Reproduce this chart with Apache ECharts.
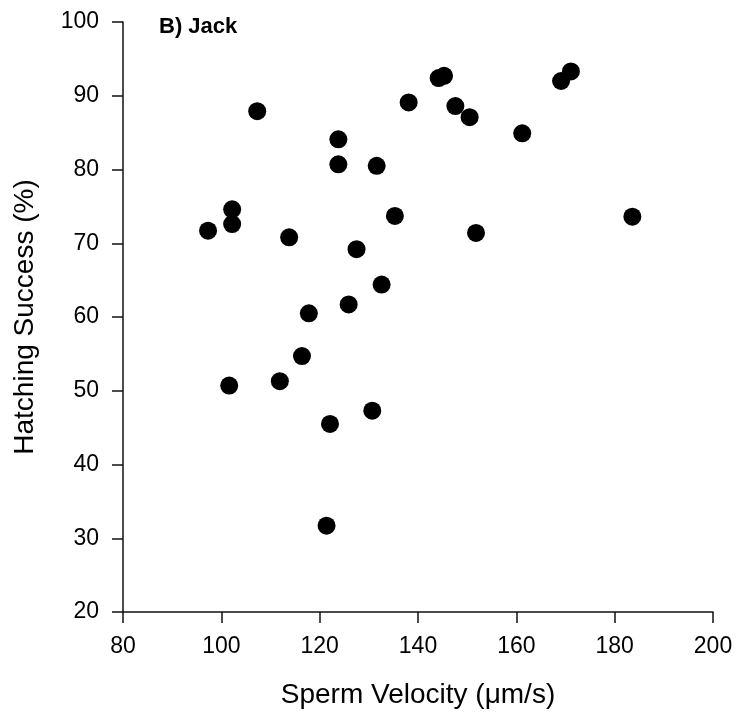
<!DOCTYPE html>
<html>
<head>
<meta charset="utf-8">
<script src="https://cdn.jsdelivr.net/npm/echarts@6/dist/echarts.min.js"></script>
<style>
html,body{margin:0;padding:0;background:#fff;}
#chart{width:739px;height:717px;}
</style>
</head>
<body>
<div id="chart"></div>
<script>
// Sperm velocity (µm/s)
var velocity = [97.3, 101.6, 102.2, 102.2, 107.3, 111.9, 113.8, 116.4, 117.8, 121.4,
                122.1, 123.8, 123.8, 125.9, 127.5, 130.7, 131.6, 132.6, 135.3, 138.1,
                144.2, 145.3, 147.6, 150.5, 151.8, 161.2, 169.1, 171.1, 183.6];
// Hatching success (%)
var hatching = [71.7, 50.7, 74.6, 72.6, 87.9, 51.3, 70.8, 54.7, 60.5, 31.7,
                45.5, 84.1, 80.7, 61.7, 69.2, 47.3, 80.5, 64.4, 73.7, 89.1,
                92.4, 92.7, 88.6, 87.1, 71.4, 84.9, 92.0, 93.3, 73.6];
var panelTitle = 'B) Jack';
var xTitle = 'Sperm Velocity (\u03bcm/s)';
var yTitle = 'Hatching Success (%)';

var points = velocity.map(function (v, i) { return [v, hatching[i]]; });
var FONT = '"Liberation Sans", Arial, sans-serif';
var axisCol = '#111';

var chart = echarts.init(document.getElementById('chart'), null, {renderer: 'canvas'});
chart.setOption({
  backgroundColor: '#fff',
  animation: false,
  title: {
    text: panelTitle, left: 154, top: 11,
    textStyle: {fontFamily: FONT, fontSize: 22, fontWeight: 'bold', color: '#000'}
  },
  grid: {left: 123, right: 26, top: 22, bottom: 105},
  xAxis: {
    type: 'value', min: 80, max: 200, interval: 20,
    name: xTitle, nameLocation: 'middle', nameGap: 69,
    nameTextStyle: {fontFamily: FONT, fontSize: 28, color: '#000'},
    axisLine: {show: true, onZero: false, lineStyle: {color: axisCol, width: 1.5}},
    axisTick: {show: true, inside: false, length: 11, lineStyle: {color: axisCol, width: 1.5}},
    axisLabel: {fontFamily: FONT, fontSize: 23, color: '#000', margin: 23},
    splitLine: {show: false}
  },
  yAxis: {
    type: 'value', min: 20, max: 100, interval: 10,
    name: yTitle, nameLocation: 'middle', nameGap: 84,
    nameTextStyle: {fontFamily: FONT, fontSize: 28, color: '#000'},
    axisLine: {show: true, onZero: false, lineStyle: {color: axisCol, width: 1.5}},
    axisTick: {show: true, inside: false, length: 11, lineStyle: {color: axisCol, width: 1.5}},
    axisLabel: {fontFamily: FONT, fontSize: 23, color: '#000', margin: 24},
    splitLine: {show: false}
  },
  series: [{
    type: 'scatter',
    data: points,
    symbol: 'circle',
    symbolSize: 18,
    itemStyle: {color: '#000', opacity: 1}
  }]
});
</script>
</body>
</html>
